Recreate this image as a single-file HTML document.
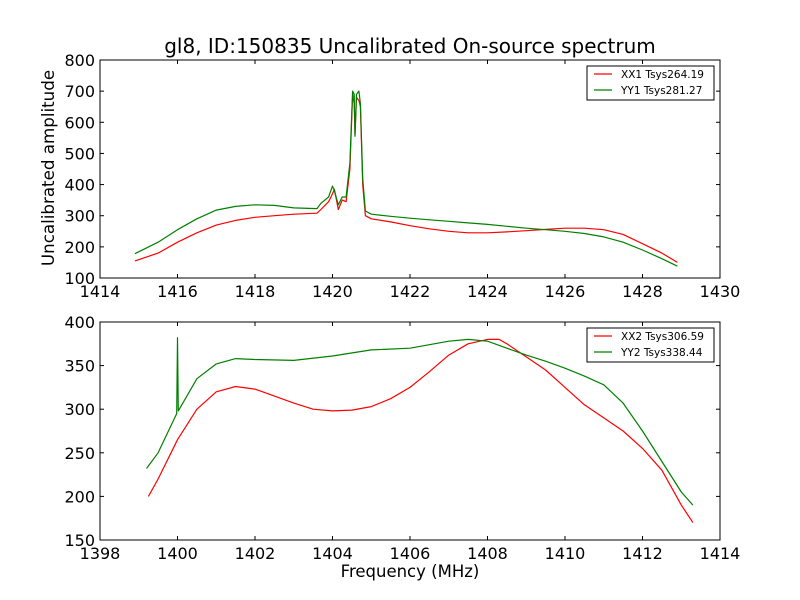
<!DOCTYPE html>
<html><head><meta charset="utf-8"><style>
body{margin:0;background:#fff}
svg{display:block;font-family:"DejaVu Sans","Liberation Sans",sans-serif}
</style></head><body>
<svg id="c" width="800" height="600">
<rect width="800" height="600" fill="#fff"/>
<text x="410" y="53" font-size="20" text-anchor="middle">gl8, ID:150835 Uncalibrated On-source spectrum</text>
<text x="54" y="168" font-size="16.7" text-anchor="middle" transform="rotate(-90 54 168)">Uncalibrated amplitude</text>
<text x="410" y="577" font-size="16.5" text-anchor="middle">Frequency (MHz)</text>
<g id="top"></g>
<g id="bot"></g>
</svg>
<script>
const topXX1x=[1414.9,1415.5,1416,1416.5,1417,1417.5,1418,1418.5,1419,1419.6,1419.7,1419.9,1420.0,1420.05,1420.15,1420.25,1420.35,1420.45,1420.52,1420.56,1420.58,1420.62,1420.68,1420.72,1420.78,1420.85,1421,1421.5,1422,1422.5,1423,1423.5,1424,1424.5,1425,1425.5,1426,1426.5,1427,1427.5,1428,1428.5,1428.9];
const topXX1y=[155,180,215,245,270,285,295,300,305,308,320,345,370,385,320,350,345,450,690,660,560,680,670,650,400,300,290,280,268,258,250,245,245,248,252,256,260,260,255,240,210,180,150];
const topYY1x=topXX1x.slice();
const topYY1y=[178,215,255,290,318,330,335,333,325,323,340,360,395,380,335,360,360,470,700,690,555,690,700,660,420,315,305,298,292,287,282,277,272,266,260,255,250,243,232,215,190,162,138];
const botXX2x=[1399.25,1399.5,1400,1400.5,1401,1401.5,1402,1402.5,1403,1403.5,1404,1404.5,1405,1405.5,1406,1406.5,1407,1407.5,1408,1408.3,1408.5,1409,1409.5,1410,1410.5,1411,1411.5,1412,1412.5,1413,1413.3];
const botXX2y=[200,220,265,300,320,326,323,315,307,300,298,299,303,312,325,343,362,375,380,380,375,360,345,325,305,290,275,255,230,190,170];
const botYY2x=[1399.2,1399.5,1399.98,1400.0,1400.02,1400.5,1401,1401.5,1402,1403,1404,1405,1406,1407,1407.5,1408,1408.5,1409,1409.5,1410,1410.5,1411,1411.5,1412,1412.5,1413,1413.3];
const botYY2y=[232,250,295,382,298,335,352,358,357,356,361,368,370,378,380,378,370,362,355,347,338,328,307,275,240,205,190];
const topXTicks=[1414,1416,1418,1420,1422,1424,1426,1428,1430];
const topYTicks=[100,200,300,400,500,600,700,800];
const botXTicks=[1398,1400,1402,1404,1406,1408,1410,1412,1414];
const botYTicks=[150,200,250,300,350,400];
const topLegend=["XX1 Tsys264.19","YY1 Tsys281.27"];
const botLegend=["XX2 Tsys306.59","YY2 Tsys338.44"];
const NS="http://www.w3.org/2000/svg";
function mk(p,t,a){const e=document.createElementNS(NS,t);for(const k in a)e.setAttribute(k,a[k]);p.appendChild(e);return e;}
function panel(g,x0,x1,y0,y1,top,bottom,xt,yt,series,leg){
  const L=100,R=720;
  const sx=v=>L+(v-x0)/(x1-x0)*(R-L);
  const sy=v=>bottom-(v-y0)/(y1-y0)*(bottom-top);
  series.forEach(s=>{
    const d=s.x.map((v,i)=>(i?'L':'M')+sx(v).toFixed(1)+','+sy(s.y[i]).toFixed(1)).join('');
    const p=mk(g,'path',{d:d,fill:'none',stroke:s.c,'stroke-width':1.2,'stroke-linejoin':'round'});
    
    
  });
  const fr=mk(g,'rect',{x:L,y:top,width:R-L,height:bottom-top,fill:'none',stroke:'#000','stroke-width':1});
  
  
  xt.forEach(v=>{const x=sx(v);
    mk(g,'line',{x1:x,x2:x,y1:bottom,y2:bottom-4,stroke:'#000'});
    mk(g,'line',{x1:x,x2:x,y1:top,y2:top+4,stroke:'#000'});
    const t=mk(g,'text',{x:x,y:bottom+19,'font-size':16,'text-anchor':'middle'});t.textContent=v;
    
    
  });
  yt.forEach(v=>{const y=sy(v);
    mk(g,'line',{x1:L,x2:L+4,y1:y,y2:y,stroke:'#000'});
    mk(g,'line',{x1:R,x2:R-4,y1:y,y2:y,stroke:'#000'});
    const t=mk(g,'text',{x:L-5,y:y+6,'font-size':16,'text-anchor':'end'});t.textContent=v;
    
    
  });
  const lg=mk(g,'g',{});
  
  
  mk(lg,'rect',{x:587,y:top+6,width:127,height:34,fill:'#fff',stroke:'#000'});
  leg.forEach((s,i)=>{const y=top+14+i*16;
    mk(lg,'line',{x1:594,x2:612,y1:y,y2:y,stroke:series[i].c,'stroke-width':1.2});
    const t=mk(lg,'text',{x:621,y:y+4,'font-size':10.5});t.textContent=s;
    
    
  });
}
panel(document.getElementById('top'),1414,1430,100,800,60,278,topXTicks,topYTicks,
 [{x:topXX1x,y:topXX1y,c:'#ff0000',n:'xx1-line'},{x:topYY1x,y:topYY1y,c:'#008000',n:'yy1-line'}],topLegend);
panel(document.getElementById('bot'),1398,1414,150,400,322,540,botXTicks,botYTicks,
 [{x:botXX2x,y:botXX2y,c:'#ff0000',n:'xx2-line'},{x:botYY2x,y:botYY2y,c:'#008000',n:'yy2-line'}],botLegend);
</script>
</body></html>
